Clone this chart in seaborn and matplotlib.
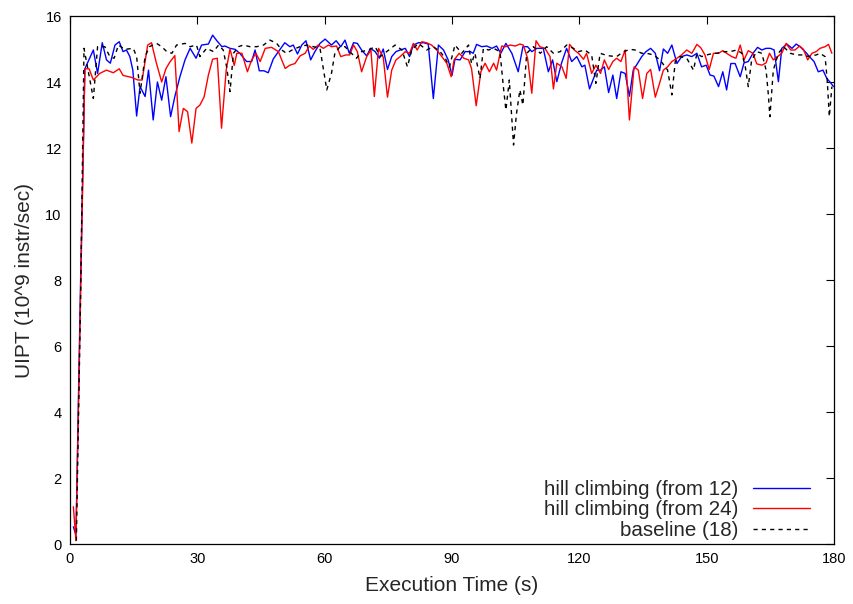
import matplotlib
matplotlib.use("Agg")
import matplotlib.pyplot as plt
import seaborn as sns
import pandas as pd

# hill climbing (from 12) -- blue
blue_t = [0.8, 1.4, 2.5, 3.5, 5.5, 6.5, 7.6, 8.6, 9.5, 10.6, 11.6, 12.5, 13.3, 14.1, 14.8, 15.7, 16.5, 17.7,
          18.5, 19.6, 20.6, 21.6, 22.6, 23.7, 24.7, 25.9, 27.1, 28.3, 29.7, 31.0, 32.6, 33.6, 34.6, 35.8,
          36.5, 37.7, 38.9, 40.0, 41.6, 42.8, 43.6, 44.6, 45.7, 46.7, 47.9, 49.1, 50.6, 51.8, 52.6, 53.6,
          54.6, 55.6, 56.7, 57.7, 58.9, 60.1, 61.6, 62.7, 63.8, 64.8, 65.8, 66.8, 67.7, 68.7, 69.9, 70.8,
          71.9, 72.9, 73.8, 74.8, 75.8, 76.8, 77.8, 79.0, 80.0, 80.9, 82.1, 83.3, 84.4, 85.6, 86.8, 88.0,
          89.1, 90.0, 90.7, 91.9, 93.1, 94.3, 95.0, 95.8, 97.0, 98.2, 99.4, 100.5, 101.5, 102.7, 104.1,
          105.6, 106.7, 107.8, 108.8, 110.0, 111.5, 112.7, 113.7, 114.7, 115.8, 117.0, 118.2, 119.4,
          120.6, 121.3, 122.4, 124.1, 125.0, 125.9, 126.9, 127.9, 128.8, 129.8, 130.8, 131.8, 132.7,
          133.7, 134.7, 135.7, 136.8, 137.9, 138.9, 139.8, 140.8, 141.8, 143.0, 144.1, 145.3, 146.5,
          147.7, 148.8, 149.9, 150.8, 151.7, 152.8, 153.8, 154.7, 155.7, 156.7, 157.9, 158.8, 159.8,
          160.9, 162.0, 163.0, 164.0, 165.0, 165.9, 166.9, 167.7, 168.9, 170.1, 171.1, 172.0, 173.2,
          174.2, 175.3, 176.3, 177.4, 178.3, 179.3, 179.9]
blue_v = [0.52, 0.27, 8.0, 14.40, 14.97, 14.26, 15.19, 14.67, 14.57, 15.12, 15.22, 14.92, 14.97, 14.77, 14.36,
          12.97, 13.86, 13.56, 14.36, 12.85, 14.00, 13.45, 14.16, 12.95, 13.56, 14.16, 14.67, 15.02, 14.72,
          15.12, 15.15, 15.42, 15.25, 15.07, 15.09, 15.02, 14.99, 14.87, 14.62, 14.62, 14.97, 14.34, 14.34,
          14.28, 14.70, 14.92, 15.19, 15.07, 15.12, 14.85, 15.12, 15.25, 14.67, 14.92, 15.17, 15.30, 15.12,
          15.25, 15.07, 15.27, 14.87, 15.19, 15.17, 14.97, 14.79, 15.02, 14.92, 14.72, 15.00, 14.38, 14.77,
          14.92, 14.97, 15.02, 14.77, 15.12, 15.19, 15.19, 15.15, 13.50, 15.12, 14.97, 14.67, 14.20, 14.69,
          14.67, 14.92, 14.92, 14.87, 15.14, 15.07, 15.09, 15.02, 15.09, 14.87, 15.17, 14.87, 14.31, 15.07,
          15.07, 14.92, 15.02, 15.02, 14.31, 14.67, 14.01, 14.57, 15.02, 14.62, 14.77, 14.46, 14.51, 13.79,
          14.36, 14.36, 14.46, 13.68, 14.21, 13.50, 14.31, 14.26, 13.57, 14.36, 14.56, 14.77, 14.92, 15.02,
          14.87, 14.34, 15.00, 14.87, 15.12, 14.56, 14.77, 14.82, 14.77, 14.87, 14.46, 14.51, 14.21, 14.18,
          13.86, 14.31, 13.76, 14.56, 14.56, 14.16, 14.58, 14.62, 14.87, 15.05, 14.97, 15.02, 15.02, 14.97,
          14.01, 15.02, 15.15, 15.02, 15.15, 15.07, 14.92, 14.77, 14.62, 14.31, 14.36, 14.11, 13.96, 13.86]

# hill climbing (from 24) -- red
red_t = [0.8, 1.4, 2.5, 3.5, 4.5, 5.5, 7.0, 8.6, 10.2, 11.6, 12.5, 14.5, 16.0, 17.0, 18.3, 19.2, 20.3, 21.6,
         22.6, 23.5, 24.7, 25.7, 26.7, 27.7, 28.7, 29.7, 30.6, 31.6, 32.6, 33.6, 34.7, 35.7, 36.8, 37.7,
         38.7, 39.3, 40.5, 41.8, 42.8, 43.8, 44.8, 46.0, 47.5, 49.1, 50.7, 51.8, 53.0, 54.2, 55.4, 56.4,
         57.3, 58.5, 59.7, 60.9, 61.6, 62.8, 63.8, 65.0, 65.9, 66.8, 67.7, 68.7, 69.9, 70.9, 71.7, 72.7,
         73.8, 74.8, 75.8, 76.8, 77.8, 79.0, 80.0, 80.9, 81.8, 82.9, 84.0, 85.2, 86.4, 87.6, 88.8, 89.8,
         90.5, 91.7, 92.8, 93.9, 94.6, 95.7, 96.8, 97.8, 98.8, 99.8, 100.5, 101.7, 102.7, 103.7, 104.9,
         106.0, 106.8, 107.8, 108.8, 109.8, 110.7, 111.9, 113.1, 113.9, 114.7, 115.9, 116.9, 117.7,
         118.8, 119.8, 121.0, 121.7, 122.9, 123.9, 125.0, 125.9, 126.9, 127.9, 128.8, 129.8, 130.8,
         131.8, 132.9, 133.9, 134.9, 135.9, 136.8, 137.9, 138.9, 139.8, 140.8, 141.8, 143.0, 144.1,
         145.3, 146.5, 147.7, 148.6, 149.6, 150.6, 151.6, 152.8, 153.8, 154.7, 155.9, 156.9, 157.9,
         158.8, 159.8, 160.9, 161.8, 163.0, 164.0, 164.8, 165.7, 166.7, 167.7, 168.7, 169.8, 170.8,
         171.9, 172.8, 173.8, 174.8, 175.8, 176.7, 177.9, 178.7, 179.5]
red_v = [1.13, 0.10, 7.5, 14.40, 14.40, 14.06, 14.26, 14.36, 14.28, 14.40, 14.20, 14.14, 14.06, 14.06, 15.12,
         15.19, 14.60, 14.00, 14.40, 14.60, 14.80, 12.50, 13.20, 13.10, 12.15, 13.20, 13.30, 13.55, 14.21,
         14.69, 14.72, 12.60, 14.36, 15.00, 14.50, 14.87, 14.87, 14.31, 14.67, 14.87, 14.62, 15.02, 15.05,
         14.92, 14.41, 14.51, 14.56, 14.79, 14.87, 15.09, 14.99, 15.12, 15.02, 15.12, 15.07, 15.09, 14.77,
         14.82, 14.82, 15.12, 14.92, 14.31, 14.77, 14.97, 13.56, 15.02, 14.75, 13.54, 14.36, 14.67, 14.77,
         14.92, 14.87, 15.17, 14.97, 15.22, 15.19, 15.12, 14.97, 14.77, 14.56, 14.16, 14.67, 14.87, 14.72,
         14.67, 14.41, 13.28, 14.31, 14.57, 14.31, 14.57, 14.36, 15.09, 15.07, 15.12, 15.09, 15.15, 15.12,
         14.72, 13.66, 15.25, 15.07, 15.02, 14.77, 13.79, 14.57, 14.46, 14.11, 15.14, 14.97, 14.87, 14.69,
         14.87, 14.26, 14.51, 14.26, 14.67, 14.38, 14.62, 14.72, 14.62, 14.97, 12.85, 14.46, 14.36, 13.50,
         14.26, 14.38, 13.54, 13.96, 14.36, 14.46, 14.62, 14.72, 14.82, 14.97, 14.87, 15.14, 15.04, 14.82,
         14.38, 14.87, 14.87, 14.95, 14.87, 14.77, 14.72, 15.12, 14.67, 14.95, 14.87, 14.55, 14.51, 14.58,
         14.87, 14.67, 14.77, 14.87, 15.17, 14.97, 14.97, 15.09, 14.99, 14.67, 14.87, 14.92, 15.02, 15.07,
         15.14, 14.87]

# baseline (18) -- black dashed
base_t = [1.5, 2.5, 3.3, 5.5, 6.5, 8.2, 9.4, 10.4, 11.4, 12.9, 14.9, 15.7, 16.5, 17.7, 18.7, 20.4, 21.6,
          22.8, 24.0, 25.1, 27.1, 28.3, 29.8, 30.6, 32.2, 33.8, 35.0, 36.1, 36.9, 37.7, 38.5, 39.7, 40.8,
          42.4, 44.0, 45.6, 47.1, 48.7, 49.9, 51.0, 52.6, 54.2, 55.8, 57.3, 58.9, 60.5, 61.6, 62.4, 63.6,
          64.8, 65.9, 67.5, 68.7, 70.3, 71.9, 73.1, 74.6, 76.6, 78.2, 79.5, 80.5, 82.1, 84.0, 85.6, 87.2,
          88.4, 89.4, 90.7, 92.3, 93.9, 94.6, 95.4, 96.6, 97.4, 98.6, 99.8, 101.3, 102.1, 102.7, 103.5,
          104.5, 105.2, 106.0, 106.7, 107.6, 109.2, 110.8, 112.3, 113.9, 115.5, 117.0, 118.6, 119.8,
          121.3, 122.9, 123.9, 124.9, 126.1, 127.2, 128.8, 130.4, 132.0, 133.1, 134.7, 135.9, 137.5,
          139.0, 140.8, 141.8, 142.6, 143.7, 145.3, 146.9, 147.7, 148.8, 150.0, 151.6, 152.4, 154.0,
          155.5, 157.1, 158.3, 159.1, 159.8, 160.6, 161.8, 163.0, 164.0, 164.5, 164.9, 165.7, 166.9,
          168.1, 169.7, 171.2, 172.8, 174.0, 175.8, 176.7, 177.9, 178.4, 178.9, 179.5]
base_v = [0.10, 7.5, 15.02, 13.50, 15.07, 15.07, 14.77, 14.72, 15.12, 14.99, 15.02, 14.77, 13.66, 14.77, 15.07,
          15.17, 15.07, 14.92, 14.87, 15.12, 15.17, 15.07, 15.12, 14.77, 15.02, 14.92, 15.12, 14.97, 14.46,
          13.71, 14.87, 15.07, 15.12, 15.07, 15.07, 15.12, 15.27, 15.17, 14.97, 14.87, 14.99, 15.07, 15.12,
          15.07, 15.02, 13.76, 14.26, 14.87, 15.07, 15.07, 14.92, 14.72, 14.92, 14.97, 15.07, 14.77, 14.92,
          15.12, 14.97, 14.46, 14.97, 15.17, 14.97, 15.07, 14.92, 14.72, 14.46, 15.12, 14.87, 15.12, 14.56,
          14.87, 14.11, 15.02, 14.97, 15.02, 14.92, 13.86, 13.15, 14.06, 12.09, 13.05, 13.76, 13.30, 14.87,
          15.07, 14.87, 15.07, 14.87, 14.92, 15.12, 15.02, 14.92, 14.97, 14.82, 13.96, 14.87, 14.82, 14.79,
          14.77, 14.92, 14.99, 14.97, 14.87, 14.87, 14.82, 14.67, 14.36, 13.61, 14.62, 14.77, 14.72, 14.36,
          14.87, 14.77, 14.82, 14.87, 14.87, 14.92, 14.92, 14.97, 14.87, 14.46, 13.86, 14.67, 14.92, 14.87,
          14.36, 13.66, 12.95, 14.36, 14.87, 15.07, 14.87, 14.82, 14.82, 14.77, 14.82, 14.87, 14.77, 14.06,
          12.95, 13.86]

labels = ["hill climbing (from 12)", "hill climbing (from 24)", "baseline (18)"]
x_ticks = [0, 30, 60, 90, 120, 150, 180]
y_ticks = [0, 2, 4, 6, 8, 10, 12, 14, 16]

sns.set_style("white")
plt.rcParams['font.family'] = ['Liberation Sans', 'DejaVu Sans']

fig = plt.figure(figsize=(8.54, 6.04), dpi=100)
ax = fig.add_axes([70 / 854, 60 / 604, 764 / 854, 528 / 604])

series = [(blue_t, blue_v, labels[0], "#0000ff", "-"),
          (red_t, red_v, labels[1], "#ff0000", "-"),
          (base_t, base_v, labels[2], "#000000", (0, (3, 3)))]
for t, v, lab, col, ls in series:
    df = pd.DataFrame({"t": t, "v": v})
    sns.lineplot(data=df, x="t", y="v", ax=ax, color=col, linewidth=1.0,
                 linestyle=ls, label=lab, estimator=None, sort=False)

ax.set_xlim(0, 180)
ax.set_ylim(0, 16)
ax.set_xticks(x_ticks)
ax.set_yticks(y_ticks)
ax.tick_params(direction="in", length=6, width=0.8, top=True, right=True,
               labelsize=10.5, colors="black", pad=6)
for s in ax.spines.values():
    s.set_color("black")
    s.set_linewidth(0.9)

ax.set_xlabel("Execution Time (s)", fontsize=15, labelpad=7)
ax.set_ylabel("UIPT (10^9 instr/sec)", fontsize=15, labelpad=8)

leg = ax.legend(loc="lower right", frameon=False, markerfirst=False, fontsize=14.8,
                handlelength=2.8, handletextpad=0.68, labelspacing=0.08,
                borderaxespad=0.0, bbox_to_anchor=(0.9795, -0.008))

fig.savefig("out.png", dpi=100)
